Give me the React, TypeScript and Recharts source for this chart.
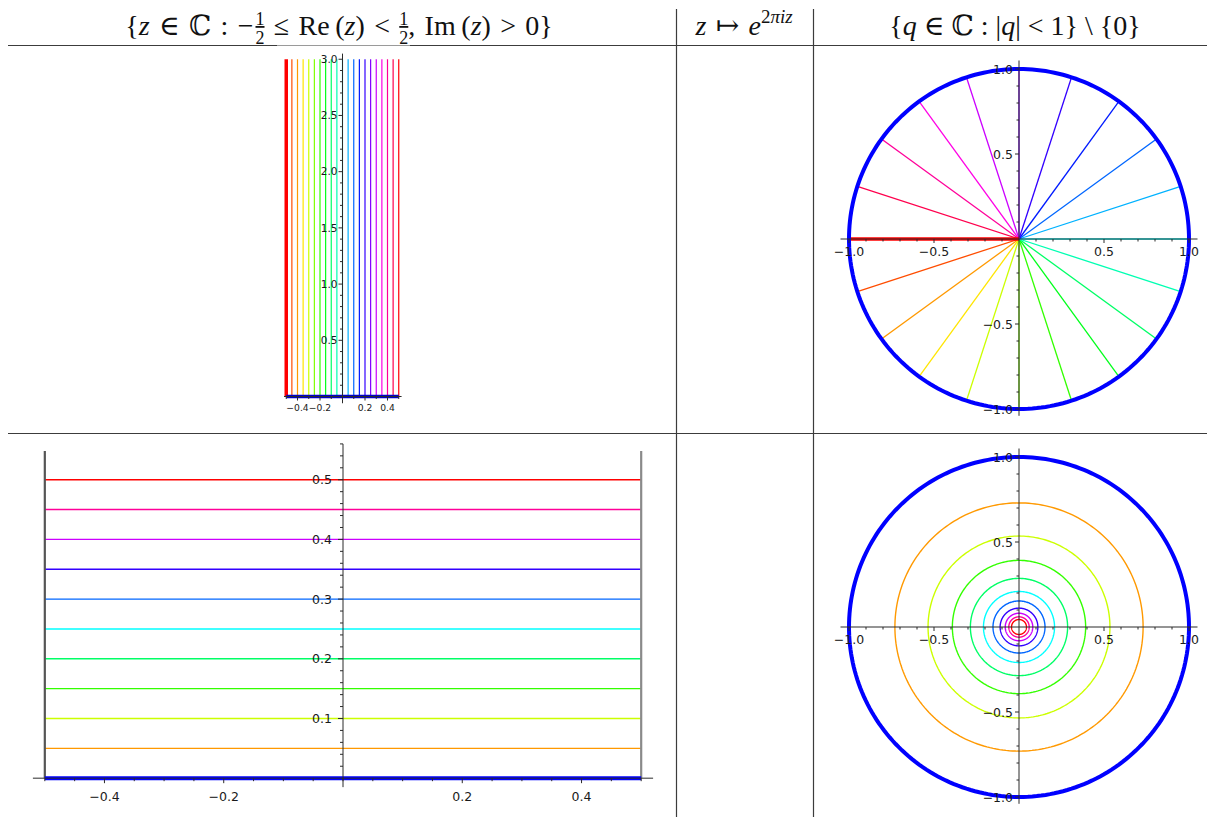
import React from 'react';
import { ComposedChart, Line, Scatter, XAxis, YAxis } from 'recharts';

// ---------------- data ----------------
// Re(z) of the vertical lines in the strip (top-left)
const reLines = [-0.5, -0.45, -0.4, -0.35, -0.3, -0.25, -0.2, -0.15, -0.1, -0.05, 0, 0.05, 0.1, 0.15, 0.2, 0.25, 0.3, 0.35, 0.4, 0.45, 0.5];
// Im(z) of the horizontal lines (bottom-left)
const imLines = [0.05, 0.1, 0.15, 0.2, 0.25, 0.3, 0.35, 0.4, 0.45, 0.5];
// radii of their images |q| (bottom-right)
const circleRadii = [0.73, 0.535, 0.392, 0.286, 0.209, 0.153, 0.111, 0.081, 0.06, 0.044];
const stripTop = 3.0;

// tick labels
const tlXLabels = [-0.4, -0.2, 0.2, 0.4];
const tlYLabels = [0.5, 1.0, 1.5, 2.0, 2.5, 3.0];
const blXLabels = [-0.4, -0.2, 0.2, 0.4];
const blYLabels = [0.1, 0.2, 0.3, 0.4, 0.5];
const discLabels = [-1.0, -0.5, 0.5, 1.0];
// minor ticks
const tlXMinor = [-0.5, -0.3, -0.1, 0, 0.1, 0.3, 0.5];
const tlYMinor = [0.1, 0.2, 0.3, 0.4, 0.6, 0.7, 0.8, 0.9, 1.1, 1.2, 1.3, 1.4, 1.6, 1.7, 1.8, 1.9, 2.1, 2.2, 2.3, 2.4, 2.6, 2.7, 2.8, 2.9];
const blXMinor = [-0.5, -0.45, -0.35, -0.3, -0.25, -0.15, -0.1, -0.05, 0, 0.05, 0.1, 0.15, 0.25, 0.3, 0.35, 0.45, 0.5];
const blYMinor = [0.02, 0.04, 0.06, 0.08, 0.12, 0.14, 0.16, 0.18, 0.22, 0.24, 0.26, 0.28, 0.32, 0.34, 0.36, 0.38, 0.42, 0.44, 0.46, 0.48, 0.52, 0.54, 0.56];
const discMinor = [-0.9, -0.8, -0.7, -0.6, -0.4, -0.3, -0.2, -0.1, 0.1, 0.2, 0.3, 0.4, 0.6, 0.7, 0.8, 0.9];

// ---------------- styles ----------------
const AXIS = '#2a2a2a';
const TICK_FONT = "'DejaVu Sans', sans-serif";
const SERIF = "'Liberation Serif', 'DejaVu Serif', serif";
const RS = '\u2004'; // relation spacing

function hueColor(h: number): string {
  const hh = ((((h % 1) + 1) % 1) * 6);
  const i = Math.floor(hh);
  const f = hh - i;
  let r = 0, g = 0, b = 0;
  switch (i) {
    case 0: r = 1; g = f; b = 0; break;
    case 1: r = 1 - f; g = 1; b = 0; break;
    case 2: r = 0; g = 1; b = f; break;
    case 3: r = 0; g = 1 - f; b = 1; break;
    case 4: r = f; g = 0; b = 1; break;
    default: r = 1; g = 0; b = 1 - f;
  }
  const hx = (v: number) => Math.round(v * 255).toString(16).padStart(2, '0');
  return '#' + hx(r) + hx(g) + hx(b);
}

const fmt = (v: number) => (v < 0 ? '\u2212' : '') + Math.abs(v).toFixed(1);

type Pt = { x: number; y: number };
const seg = (a: Pt, b: Pt): Pt[] => [a, b];
const circlePts = (r: number): Pt[] => {
  const pts: Pt[] = [];
  for (let k = 0; k <= 240; k++) {
    const t = (k / 240) * 2 * Math.PI;
    pts.push({ x: r * Math.cos(t), y: r * Math.sin(t) });
  }
  return pts;
};

function L(key: string, data: Pt[], stroke: string, width: number) {
  return (
    <Line key={key} data={data} dataKey="y" type="linear" stroke={stroke} strokeWidth={width}
      dot={false} activeDot={false} isAnimationActive={false} legendType="none" strokeLinecap="butt" />
  );
}

const makeXTick = (len: number, fontSize: number, dy: number) => (props: any) => {
  const { cx, cy, payload } = props;
  return (
    <g>
      <line x1={cx} x2={cx} y1={cy} y2={cy + len} stroke={AXIS} strokeWidth={1} />
      {fontSize > 0 ? (
        <text x={cx} y={cy + dy} textAnchor="middle" fontSize={fontSize} fontFamily={TICK_FONT} fill="#1a1a1a">
          {fmt(payload.x)}
        </text>
      ) : null}
    </g>
  );
};
const makeYTick = (len: number, fontSize: number, gap: number) => (props: any) => {
  const { cx, cy, payload } = props;
  return (
    <g>
      <line x1={cx - len} x2={cx} y1={cy} y2={cy} stroke={AXIS} strokeWidth={1} />
      {fontSize > 0 ? (
        <text x={cx - gap} y={cy + fontSize * 0.36} textAnchor="end" fontSize={fontSize} fontFamily={TICK_FONT} fill="#1a1a1a">
          {fmt(payload.y)}
        </text>
      ) : null}
    </g>
  );
};

function Ticks(key: string, data: Pt[], shape: any) {
  return <Scatter key={key} data={data} shape={shape} isAnimationActive={false} legendType="none" />;
}

function Panel(props: { left: number; top: number; width: number; height: number; xd: number[]; yd: number[]; children: any }) {
  const { left, top, width, height, xd, yd, children } = props;
  return (
    <div style={{ position: 'absolute', left, top, width, height }}>
      <ComposedChart width={width} height={height} margin={{ top: 0, right: 0, bottom: 0, left: 0 }}>
        <XAxis type="number" dataKey="x" domain={xd} allowDataOverflow hide />
        <YAxis type="number" dataKey="y" domain={yd} allowDataOverflow hide />
        {children}
      </ComposedChart>
    </div>
  );
}

// ---------------- panels ----------------
function StripPanel() {
  const items: any[] = [];
  reLines.forEach((x, i) => {
    items.push(L('v' + i, seg({ x, y: 0 }, { x, y: stripTop }), hueColor(x + 0.5), i === 0 ? 3.5 : 1.2));
  });
  items.push(L('base', seg({ x: -0.5, y: 0 }, { x: 0.5, y: 0 }), '#0000c8', 3.5));
  items.push(L('ax', seg({ x: -0.52, y: 0 }, { x: 0.525, y: 0 }), AXIS, 1));
  items.push(L('ay', seg({ x: 0, y: -0.06 }, { x: 0, y: 3.05 }), AXIS, 1));
  items.push(Ticks('txm', tlXMinor.map((x) => ({ x, y: 0 })), makeXTick(2.5, 0, 0)));
  items.push(Ticks('tym', tlYMinor.map((y) => ({ x: 0, y })), makeYTick(2.5, 0, 0)));
  items.push(Ticks('tx', tlXLabels.map((x) => ({ x, y: 0 })), makeXTick(4, 9.2, 14.5)));
  items.push(Ticks('ty', tlYLabels.map((y) => ({ x: 0, y })), makeYTick(4, 10.5, 5)));
  return <Panel left={275} top={48} width={135} height={371} xd={[-0.6, 0.6]} yd={[-0.2, 3.1]}>{items}</Panel>;
}

function HorizPanel() {
  const items: any[] = [];
  imLines.forEach((y, i) => {
    items.push(L('h' + i, seg({ x: -0.5, y }, { x: 0.5, y }), hueColor(2 * y), 1.4));
  });
  items.push(L('gl', seg({ x: -0.5, y: 0 }, { x: -0.5, y: 0.548 }), '#555555', 2.2));
  items.push(L('gr', seg({ x: 0.5, y: 0 }, { x: 0.5, y: 0.548 }), '#8a8a8a', 2.2));
  items.push(L('base', seg({ x: -0.5, y: 0 }, { x: 0.5, y: 0 }), '#0000ff', 4));
  items.push(L('ax', seg({ x: -0.52, y: 0 }, { x: 0.52, y: 0 }), AXIS, 1));
  items.push(L('ay', seg({ x: 0, y: -0.015 }, { x: 0, y: 0.56 }), AXIS, 1));
  items.push(Ticks('txm', blXMinor.map((x) => ({ x, y: 0 })), makeXTick(3, 0, 0)));
  items.push(Ticks('tym', blYMinor.map((y) => ({ x: 0, y })), makeYTick(3, 0, 0)));
  items.push(Ticks('tx', blXLabels.map((x) => ({ x, y: 0 })), makeXTick(5, 12.5, 23)));
  items.push(Ticks('ty', blYLabels.map((y) => ({ x: 0, y })), makeYTick(5, 12.5, 11)));
  return <Panel left={15} top={426} width={656} height={388} xd={[-0.55, 0.55]} yd={[-0.06, 0.59]}>{items}</Panel>;
}

function discAxes(items: any[]) {
  items.push(L('ax', seg({ x: -1.05, y: 0 }, { x: 1.05, y: 0 }), AXIS, 1));
  items.push(L('ay', seg({ x: 0, y: -1.04 }, { x: 0, y: 1.05 }), AXIS, 1));
  items.push(Ticks('txm', discMinor.map((x) => ({ x, y: 0 })), makeXTick(2.5, 0, 0)));
  items.push(Ticks('tym', discMinor.map((y) => ({ x: 0, y })), makeYTick(2.5, 0, 0)));
  items.push(Ticks('tx', discLabels.map((x) => ({ x, y: 0 })), makeXTick(4, 12.5, 17)));
  items.push(Ticks('ty', discLabels.map((y) => ({ x: 0, y })), makeYTick(4, 12.5, 6)));
}

function RayPanel() {
  const items: any[] = [];
  reLines.forEach((x, i) => {
    if (i === 0 || i === reLines.length - 1) return;
    const t = 2 * Math.PI * x;
    items.push(L('r' + i, seg({ x: 0, y: 0 }, { x: Math.cos(t), y: Math.sin(t) }), hueColor(x + 0.5), 1.3));
  });
  const t0 = 2 * Math.PI * reLines[0];
  items.push(L('red', seg({ x: 0, y: 0 }, { x: Math.cos(t0), y: Math.sin(t0) }), '#ff0000', 3.5));
  items.push(L('unit', circlePts(1), '#0000ff', 4));
  discAxes(items);
  return <Panel left={831.5} top={52} width={374} height={374} xd={[-1.1, 1.1]} yd={[-1.1, 1.1]}>{items}</Panel>;
}

function CirclePanel() {
  const items: any[] = [];
  circleRadii.forEach((r, i) => {
    items.push(L('c' + i, circlePts(r), hueColor(2 * imLines[i]), 1.4));
  });
  items.push(L('unit', circlePts(1), '#0000ff', 4));
  discAxes(items);
  return <Panel left={831.5} top={440} width={374} height={374} xd={[-1.1, 1.1]} yd={[-1.1, 1.1]}>{items}</Panel>;
}

// ---------------- table frame & headers ----------------
function Frame() {
  const it = { fontStyle: 'italic' as const };
  return (
    <svg width={1207} height={817} style={{ position: 'absolute', left: 0, top: 0 }}>
      <line x1={8} x2={277} y1={45.5} y2={45.5} stroke="#3c3c3c" strokeWidth={1.2} />
      <line x1={277} x2={410} y1={45.5} y2={45.5} stroke="#9a9a9a" strokeWidth={1.2} />
      <line x1={410} x2={1207} y1={45.5} y2={45.5} stroke="#3c3c3c" strokeWidth={1.2} />
      <line x1={8} x2={1207} y1={433.5} y2={433.5} stroke="#3c3c3c" strokeWidth={1.2} />
      <line x1={676.5} x2={676.5} y1={9} y2={817} stroke="#3c3c3c" strokeWidth={1.2} />
      <line x1={813.5} x2={813.5} y1={9} y2={817} stroke="#3c3c3c" strokeWidth={1.2} />

      <text x={339} y={35} textAnchor="middle" fontFamily={SERIF} fontSize={28} fill="#111">
        <tspan>{'{'}</tspan>
        <tspan {...it}>z</tspan>
        <tspan>{RS + '\u2208' + RS + '\u2102' + RS + ':' + RS + '\u2212'}</tspan>
        <tspan fontSize={18} dy={-10} dx={2} textDecoration="underline">1</tspan>
        <tspan fontSize={18} dx={-9} dy={19}>2</tspan>
        <tspan dy={-9}>{RS + '\u2264' + RS + 'Re\u2009('}</tspan>
        <tspan {...it}>z</tspan>
        <tspan>{')' + RS + '<' + RS}</tspan>
        <tspan fontSize={18} dy={-10} textDecoration="underline">1</tspan>
        <tspan fontSize={18} dx={-9} dy={19}>2</tspan>
        <tspan dy={-9}>{',' + RS + 'Im\u2009('}</tspan>
        <tspan {...it}>z</tspan>
        <tspan>{')' + RS + '>' + RS + '0}'}</tspan>
      </text>

      <text x={744} y={35} textAnchor="middle" fontFamily={SERIF} fontSize={28} fill="#111">
        <tspan {...it}>z</tspan>
        <tspan>{RS + '\u21A6' + RS}</tspan>
        <tspan {...it}>e</tspan>
        <tspan fontSize={19} dy={-12}>2</tspan>
        <tspan fontSize={19} {...it}>{'\u03C0iz'}</tspan>
      </text>

      <text x={1015} y={35} textAnchor="middle" fontFamily={SERIF} fontSize={28} fill="#111">
        <tspan>{'{'}</tspan>
        <tspan {...it}>q</tspan>
        <tspan>{' \u2208 \u2102 : |'}</tspan>
        <tspan {...it}>q</tspan>
        <tspan>{'| < 1} \\ {0}'}</tspan>
      </text>
    </svg>
  );
}

export default function App() {
  return (
    <div style={{ position: 'absolute', left: 0, top: 0, width: 1207, height: 817, background: '#fff', overflow: 'hidden' }}>
      <Frame />
      <StripPanel />
      <HorizPanel />
      <RayPanel />
      <CirclePanel />
    </div>
  );
}
